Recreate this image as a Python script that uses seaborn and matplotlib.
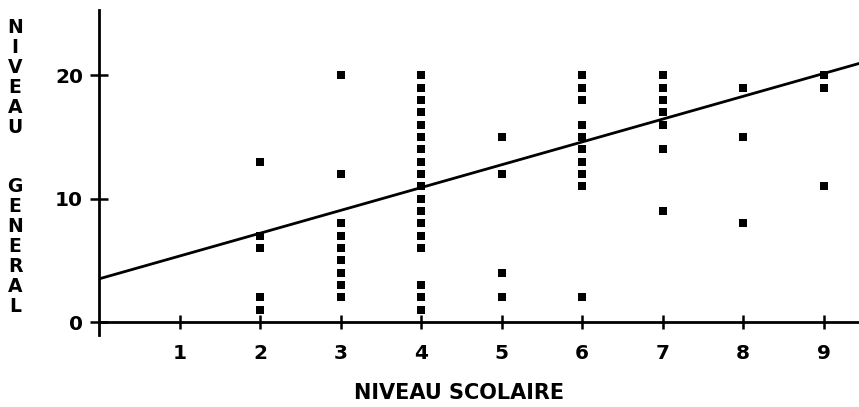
import matplotlib
matplotlib.use("Agg")
import matplotlib.pyplot as plt
import numpy as np
import pandas as pd
import seaborn as sns

# ---- data ----
niveau_scolaire = (
    [2] * 5 + [3] * 9 + [4] * 18 + [5] * 4 + [6] * 10 + [7] * 7 + [8] * 3 + [9] * 3
)
niveau_general = (
    [13, 7, 6, 2, 1]
    + [20, 12, 8, 7, 6, 5, 4, 3, 2]
    + [20, 19, 18, 17, 16, 15, 14, 13, 12, 11, 10, 9, 8, 7, 6, 3, 2, 1]
    + [15, 12, 4, 2]
    + [20, 19, 18, 16, 15, 14, 13, 12, 11, 2]
    + [20, 19, 18, 17, 16, 14, 9]
    + [19, 15, 8]
    + [20, 19, 11]
)
line_intercept = 3.5
line_slope = 1.85
x_ticks = [1, 2, 3, 4, 5, 6, 7, 8, 9]
y_ticks = [0, 10, 20]
x_label = "NIVEAU SCOLAIRE"
y_label = "NIVEAU  GENERAL"

df = pd.DataFrame({"x": niveau_scolaire, "y": niveau_general})

sns.set_theme(style="white")
plt.rcParams["font.family"] = ["DejaVu Sans"]

W, H = 859, 407
fig = plt.figure(figsize=(W / 100, H / 100), dpi=100)
ax = fig.add_axes([99 / W, (H - 335) / H, 760 / W, (335 - 10) / H])
xmax = 9.44
ax.set_xlim(0, xmax)
ax.set_ylim(-1.05, 25.3)

sns.scatterplot(data=df, x="x", y="y", marker="s", s=38, color="black",
                edgecolor="black", linewidth=0, ax=ax, clip_on=False, zorder=3)

lx = np.array([0.0, xmax])
ly = line_intercept + line_slope * lx
sns.lineplot(x=lx, y=ly, color="black", linewidth=2.0, ax=ax, zorder=4)

for s in ["top", "right"]:
    ax.spines[s].set_visible(False)
ax.spines["bottom"].set_position(("data", 0))
for s in ["left", "bottom"]:
    ax.spines[s].set_color("black")
    ax.spines[s].set_linewidth(2.0)

ax.set_xticks(x_ticks)
ax.set_yticks(y_ticks)
ax.set_xticklabels([str(v) for v in x_ticks])
ax.set_yticklabels([str(v) for v in y_ticks])
ax.tick_params(axis="x", bottom=True, direction="inout", length=9.5, width=1.8,
               pad=11, labelsize=14.5, colors="black")
ax.tick_params(axis="y", left=True, direction="inout", length=13, width=1.8,
               pad=5, labelsize=14.5, colors="black")
for lab in ax.get_xticklabels() + ax.get_yticklabels():
    lab.set_fontweight("bold")
ax.set_xlabel("")
ax.set_ylabel("")
ax.grid(False)

fig.text(459 / W, 1 - 393 / H, x_label, ha="center", va="center",
         fontsize=15, fontweight="bold", color="black")
fig.text(15 / W, 1 - 167 / H, "\n".join(list(y_label)), ha="center", va="center",
         fontsize=13.5, fontweight="bold", color="black", linespacing=1.06)

fig.savefig("out.png", dpi=100, facecolor="white")
